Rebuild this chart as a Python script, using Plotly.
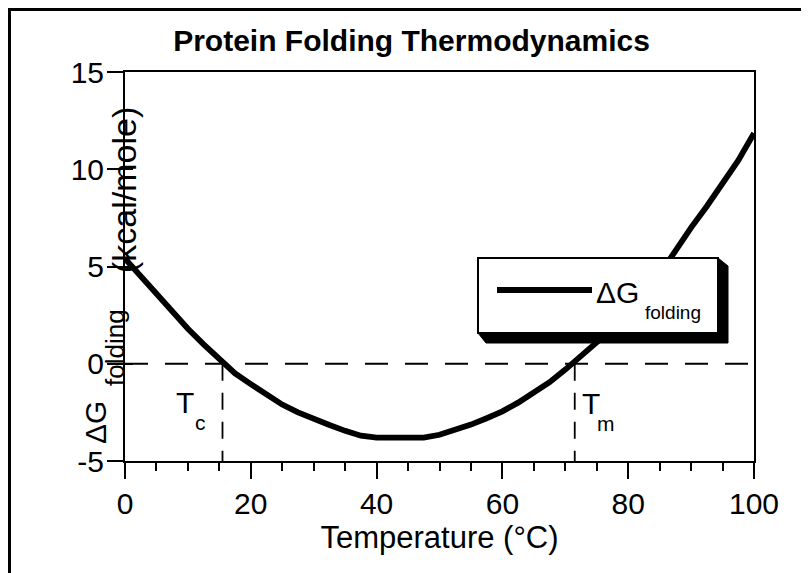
import plotly.graph_objects as go

# ---------------- data ----------------
temperature = [0, 2.5, 5, 7.5, 10, 12.5, 15, 17.5, 20, 22.5, 25, 27.5, 30, 32.5,
               35, 37.5, 40, 42.5, 45, 47.5, 50, 52.5, 55, 57.5, 60, 62.5, 65,
               67.5, 70, 72.5, 75, 77.5, 80, 82.5, 85, 87.5, 90, 92.5, 95, 97.5, 100]
dg_folding = [5.4, 4.5, 3.5, 2.6, 1.8, 1.0, 0.2, -0.5, -1.05, -1.6, -2.1, -2.5,
              -2.85, -3.15, -3.45, -3.7, -3.8, -3.82, -3.82, -3.8, -3.65, -3.4,
              -3.13, -2.8, -2.45, -2.0, -1.45, -0.95, -0.3, 0.4, 1.1, 1.8, 2.6,
              3.5, 4.6, 5.85, 7.0, 8.1, 9.3, 10.45, 11.85]
t_cold = 15.5
t_melt = 71.5
x_ticks = [0, 20, 40, 60, 80, 100]
x_tick_labels = ["0", "20", "40", "60", "80", "100"]
y_ticks = [-5, 0, 5, 10, 15]
y_tick_labels = ["-5", "0", "5", "10", "15"]
x_range = [0, 100]
y_range = [-5, 15]

FONT = "Liberation Sans, Arial, Helvetica, sans-serif"
OFF = 8                      # page body margin
W, H = 809 - OFF, 573 - OFF  # figure size
# plot area in page pixels
PL, PR, PT, PB = 125, 754, 72, 461


def px(x):
    return (x - PL) / (PR - PL)


def py(y):
    return (PB - y) / (PB - PT)


fig = go.Figure()

# dashed reference lines
fig.add_trace(go.Scatter(x=x_range, y=[0, 0], mode="lines", yaxis="y2",
                         line=dict(color="black", width=1.8, dash="23px,17px"),
                         hoverinfo="skip", showlegend=False))
for tv in (t_cold, t_melt):
    fig.add_trace(go.Scatter(x=[tv, tv], y=[0, y_range[0]], mode="lines",
                             line=dict(color="black", width=1.8, dash="17px,12px"),
                             hoverinfo="skip", showlegend=False))

# main curve
fig.add_trace(go.Scatter(x=temperature, y=dg_folding, mode="lines",
                         name="ΔG folding",
                         line=dict(color="black", width=5.8),
                         showlegend=False))

shapes = []
# outer frame (right and bottom edges fall outside the picture)
shapes.append(dict(type="rect", xref="paper", yref="paper",
                   x0=px(OFF + 1.5), x1=px(840), y0=py(620), y1=py(OFF + 1.5),
                   line=dict(color="black", width=3), fillcolor="rgba(0,0,0,0)",
                   layer="above"))
# legend box: shadow, box, sample line
lx0, lx1, ly0, ly1, sh = 478, 718, 258, 333, 10
shapes.append(dict(type="path", xref="paper", yref="paper",
                   path=(f"M{px(lx1)},{py(ly0)} L{px(lx1+sh)},{py(ly0+sh*0.8)} "
                         f"L{px(lx1+sh)},{py(ly1+sh)} L{px(lx0+sh*0.8)},{py(ly1+sh)} "
                         f"L{px(lx0)},{py(ly1)} Z"),
                   fillcolor="black", line=dict(color="black", width=1), layer="above"))
shapes.append(dict(type="rect", xref="paper", yref="paper",
                   x0=px(lx0), x1=px(lx1), y0=py(ly1), y1=py(ly0),
                   fillcolor="white", line=dict(color="black", width=2), layer="above"))
shapes.append(dict(type="line", xref="paper", yref="paper",
                   x0=px(497), x1=px(592), y0=py(290), y1=py(290),
                   line=dict(color="black", width=5.8), layer="above"))

ann = []


def add_text(text, x, y, size, angle=0, xanchor="center", yanchor="middle"):
    ann.append(dict(text=text, x=px(x), y=py(y), xref="paper", yref="paper",
                    showarrow=False, textangle=angle, xanchor=xanchor,
                    yanchor=yanchor, font=dict(family=FONT, size=size, color="black")))


# legend text
add_text("ΔG", 594, 292, 30, xanchor="left")
add_text("folding", 643, 312, 19, xanchor="left")
# T_c and T_m labels
add_text("T", 184.5, 402, 30)
add_text("c", 200, 422, 21)
add_text("T", 591, 403, 30)
add_text("m", 606, 423, 21)
# y-axis label pieces
add_text("ΔG", 95, 423, 30, angle=-90)
add_text("folding", 115, 348, 26, angle=-90)
add_text("(kcal/mole)", 124, 190, 34, angle=-90)

axis_common = dict(showgrid=False, zeroline=False, color="black",
                   tickfont=dict(family=FONT, size=30, color="black"))

fig.update_layout(
    width=W, height=H,
    margin=dict(l=PL - OFF, r=W - (PR - OFF), t=PT - OFF, b=H - (PB - OFF)),
    paper_bgcolor="white", plot_bgcolor="white",
    showlegend=False,
    font=dict(family=FONT, color="black"),
    title=dict(text="<b>Protein Folding Thermodynamics</b>",
               x=(411.5 - OFF) / W, xref="container", xanchor="center",
               y=1 - (40 - OFF) / H, yref="container", yanchor="middle",
               font=dict(family=FONT, size=30, color="black")),
    xaxis=dict(range=x_range, tickvals=x_ticks, ticktext=x_tick_labels,
               ticks="outside", ticklen=16, ticklabelstandoff=-1,
               tickwidth=1.8, tickcolor="black", showline=True, linewidth=2,
               linecolor="black", mirror=True,
               minor=dict(tick0=0, dtick=5, ticks="outside", ticklen=8,
                          tickwidth=1.5, tickcolor="black"),
               title=dict(text="Temperature (°C)", standoff=0,
                          font=dict(family=FONT, size=31, color="black")),
               **axis_common),
    yaxis=dict(range=y_range, tickvals=y_ticks, ticktext=y_tick_labels,
               ticks="outside", ticklen=16, ticklabelstandoff=-3,
               tickwidth=1.8, tickcolor="black", showline=True, linewidth=2,
               linecolor="black", mirror=True, **axis_common),
    yaxis2=dict(range=y_range, overlaying="y", side="left", tickvals=y_ticks,
                ticks="inside", ticklen=8, tickwidth=1.8, tickcolor="black",
                showticklabels=False, showline=False, showgrid=False,
                zeroline=False),
    shapes=shapes,
    annotations=ann,
)

fig.write_html("out.html")
